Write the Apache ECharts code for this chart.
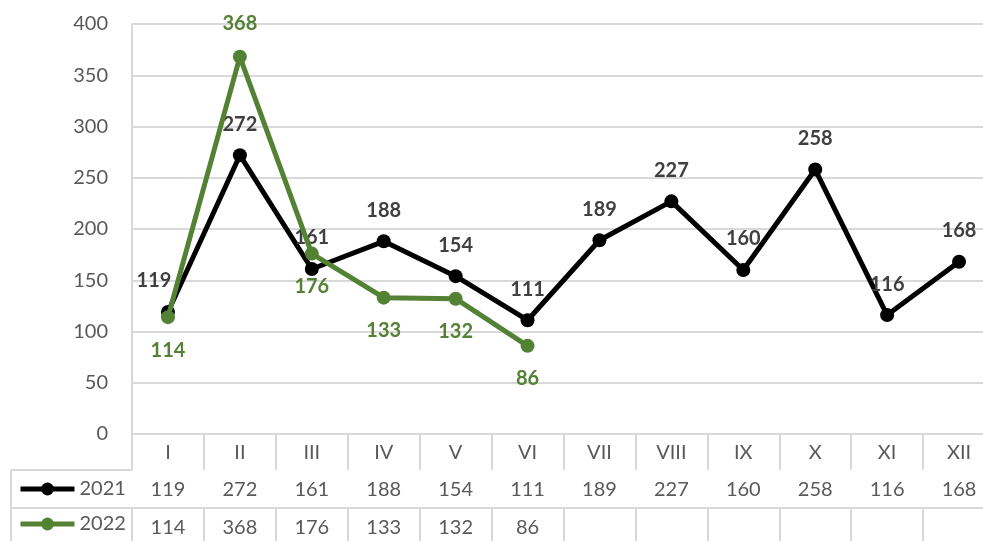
<!DOCTYPE html>
<html>
<head>
<meta charset="utf-8">
<script src="https://cdn.jsdelivr.net/npm/echarts@6/dist/echarts.min.js"></script>
<style>
  html, body { margin: 0; padding: 0; background: #fff; }
  #chart { width: 983px; height: 541px; }
</style>
</head>
<body>
<div id="chart"></div>
<script>
var months = ['I', 'II', 'III', 'IV', 'V', 'VI', 'VII', 'VIII', 'IX', 'X', 'XI', 'XII'];
var values2021 = [119, 272, 161, 188, 154, 111, 189, 227, 160, 258, 116, 168];
var values2022 = [114, 368, 176, 133, 132, 86];
var yTicks = [0, 50, 100, 150, 200, 250, 300, 350, 400];

var chart = echarts.init(document.getElementById('chart'));

var font = 'Lato, "Open Sans", sans-serif';
var grey = '#d9d9d9';
var txt = '#595959';
var green = '#548235';

// table rows: the 2022 row is shorter, blank cells after VI
var row2021 = values2021.map(String);
var row2022 = months.map(function (m, i) {
    return i < values2022.length ? String(values2022[i]) : '';
});

function rowAxis(gridIndex, cells) {
    return {
        type: 'category',
        gridIndex: gridIndex,
        position: 'top',
        data: cells,
        axisLine: { show: true, lineStyle: { color: grey, width: 2 } },
        axisTick: { show: true, inside: true, length: 40, interval: 0, lineStyle: { color: grey, width: 2 } },
        axisLabel: { inside: true, margin: 10, interval: 0, fontSize: 20, color: txt, fontFamily: font },
        splitLine: { show: false }
    };
}

function hiddenY(gridIndex) {
    return { type: 'value', gridIndex: gridIndex, show: false };
}

var option = {
    backgroundColor: '#fff',
    animation: false,
    legend: {
        orient: 'vertical',
        left: 18,
        top: 479,
        height: 200,
        padding: 0,
        itemWidth: 54,
        itemHeight: 16,
        itemGap: 15,
        lineStyle: { width: 5 },
        textStyle: { fontSize: 20, color: txt, fontFamily: font },
        data: ['2021', '2022']
    },
    grid: [
        { left: 132, width: 863, top: 24, height: 410, outerBoundsMode: 'none' },
        { left: 132, width: 863, top: 470, height: 38, outerBoundsMode: 'none' },
        { left: 132, width: 863, top: 508, height: 38, outerBoundsMode: 'none' }
    ],
    xAxis: [
        {
            type: 'category',
            gridIndex: 0,
            data: months,
            axisLine: { show: true, lineStyle: { color: grey, width: 2 } },
            axisTick: { show: true, length: 36, interval: 0, lineStyle: { color: grey, width: 2 } },
            axisLabel: { margin: 9, fontSize: 20, color: txt, fontFamily: font, interval: 0 }
        },
        rowAxis(1, row2021),
        rowAxis(2, row2022)
    ],
    yAxis: [
        {
            type: 'value',
            gridIndex: 0,
            min: yTicks[0],
            max: yTicks[yTicks.length - 1],
            interval: 50,
            axisLine: { show: true, lineStyle: { color: grey, width: 2 } },
            axisTick: { show: false },
            axisLabel: { margin: 24, fontSize: 20, color: txt, fontFamily: font },
            splitLine: { lineStyle: { color: grey, width: 2 } }
        },
        hiddenY(1),
        hiddenY(2)
    ],
    graphic: [
        { type: 'line', shape: { x1: 11, y1: 470, x2: 132, y2: 470 }, style: { stroke: grey, lineWidth: 2 } },
        { type: 'line', shape: { x1: 11, y1: 508, x2: 132, y2: 508 }, style: { stroke: grey, lineWidth: 2 } },
        { type: 'line', shape: { x1: 11, y1: 470, x2: 11, y2: 541 }, style: { stroke: grey, lineWidth: 2 } }
    ],
    series: [
        {
            name: '2021',
            type: 'line',
            xAxisIndex: 0,
            yAxisIndex: 0,
            data: values2021.map(function (v, i) {
                var item = { value: v };
                if (i === 0) item.label = { offset: [-14, 0] };
                return item;
            }),
            symbol: 'circle',
            symbolSize: 14,
            itemStyle: { color: '#000' },
            lineStyle: { color: '#000', width: 5 },
            label: {
                show: true,
                position: 'top',
                distance: 14,
                fontSize: 20,
                fontWeight: 'bold',
                color: '#404040',
                fontFamily: font
            },
            z: 3
        },
        {
            name: '2022',
            type: 'line',
            xAxisIndex: 0,
            yAxisIndex: 0,
            data: values2022.map(function (v, i) {
                var item = { value: v };
                if (i === 1) item.label = { position: 'top' };
                return item;
            }),
            symbol: 'circle',
            symbolSize: 14,
            itemStyle: { color: green },
            lineStyle: { color: green, width: 5 },
            label: {
                show: true,
                position: 'bottom',
                distance: 16,
                fontSize: 20,
                fontWeight: 'bold',
                color: green,
                fontFamily: font
            },
            z: 4
        }
    ]
};

chart.setOption(option);
</script>
</body>
</html>
